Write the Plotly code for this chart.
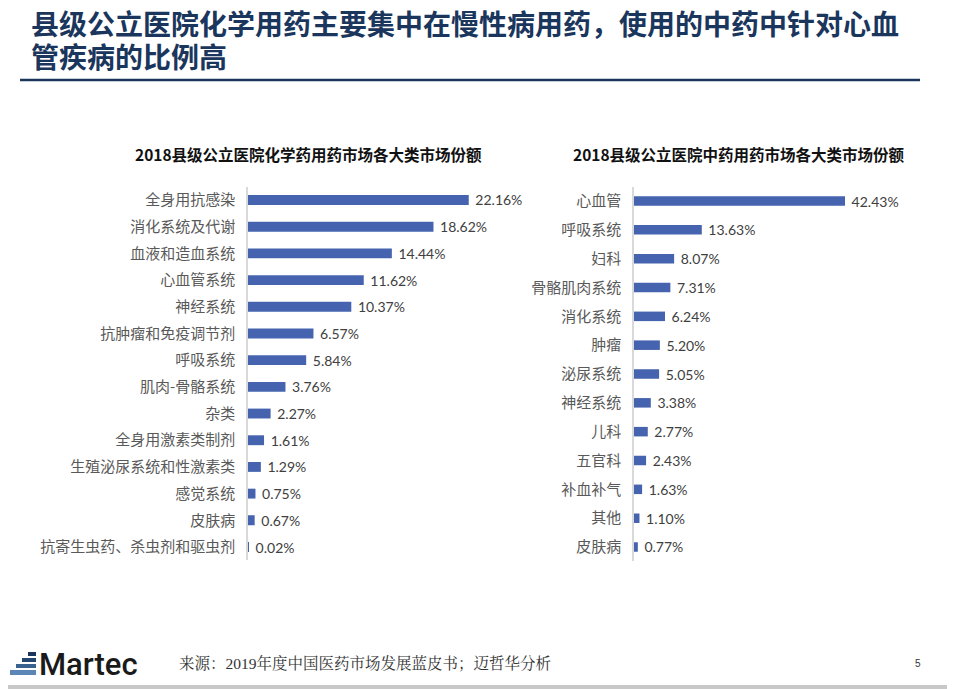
import plotly.graph_objects as go

# ---------------- data ----------------
chem_categories = ["全身用抗感染", "消化系统及代谢", "血液和造血系统", "心血管系统", "神经系统",
                   "抗肿瘤和免疫调节剂", "呼吸系统", "肌肉-骨骼系统", "杂类", "全身用激素类制剂",
                   "生殖泌尿系统和性激素类", "感觉系统", "皮肤病", "抗寄生虫药、杀虫剂和驱虫剂"]
chem_values = [22.16, 18.62, 14.44, 11.62, 10.37, 6.57, 5.84, 3.76, 2.27, 1.61, 1.29, 0.75, 0.67, 0.02]

tcm_categories = ["心血管", "呼吸系统", "妇科", "骨骼肌肉系统", "消化系统", "肿瘤", "泌尿系统",
                  "神经系统", "儿科", "五官科", "补血补气", "其他", "皮肤病"]
tcm_values = [42.43, 13.63, 8.07, 7.31, 6.24, 5.20, 5.05, 3.38, 2.77, 2.43, 1.63, 1.10, 0.77]

main_title_1 = "县级公立医院化学用药主要集中在慢性病用药，使用的中药中针对心血"
main_title_2 = "管疾病的比例高"
chem_title = "2018县级公立医院化学药用药市场各大类市场份额"
tcm_title = "2018县级公立医院中药用药市场各大类市场份额"
source_text = "来源：2019年度中国医药市场发展蓝皮书；迈哲华分析"
page_no = "5"

# page has an 8px body margin: the figure is placed at (8, 8)
OX, OY = 8, 8
W, H = 947, 681
BAR = "#4563AE"
NAVY = "#1B365D"
CJK = "Noto Sans CJK SC"

def px(x):
    return (x - OX) / W

def py(y):
    return 1 - (y - OY) / H

fig = go.Figure()

fig.add_trace(go.Bar(
    x=chem_values, y=chem_categories, orientation="h",
    marker=dict(color=BAR, line=dict(width=0)),
    width=0.37,
    text=[f"{v:.2f}%" for v in chem_values],
    texttemplate=" %{text}",
    textposition="outside", cliponaxis=False, constraintext="none",
    textfont=dict(family="Lato, Noto Sans", size=14, color="#404040"),
    xaxis="x", yaxis="y", hoverinfo="skip", showlegend=False,
))

fig.add_trace(go.Bar(
    x=tcm_values, y=tcm_categories, orientation="h",
    marker=dict(color=BAR, line=dict(width=0)),
    width=0.33,
    text=[f"{v:.2f}%" for v in tcm_values],
    texttemplate=" %{text}",
    textposition="outside", cliponaxis=False, constraintext="none",
    textfont=dict(family="Lato, Noto Sans", size=14, color="#404040"),
    xaxis="x2", yaxis="y2", hoverinfo="skip", showlegend=False,
))

ytick_font = dict(family=CJK, size=15, color="#595959")

fig.update_layout(
    width=W, height=H,
    margin=dict(l=0, r=0, t=0, b=0),
    paper_bgcolor="white", plot_bgcolor="white",
    xaxis=dict(domain=[px(248), px(507)], range=[0, 26], visible=False, fixedrange=True),
    yaxis=dict(domain=[py(560.35), py(186.65)], type="category",
               categoryorder="array", categoryarray=chem_categories,
               range=[len(chem_categories) - 0.5, -0.5],
               showline=True, linecolor="#D9D9D9", linewidth=1.5,
               ticks="", showgrid=False, zeroline=False,
               tickfont=ytick_font, ticklabelstandoff=8, anchor="x"),
    xaxis2=dict(domain=[px(634), px(932.4)], range=[0, 60], visible=False, fixedrange=True),
    yaxis2=dict(domain=[py(561.4), py(186.6)], type="category",
                categoryorder="array", categoryarray=tcm_categories,
                range=[len(tcm_categories) - 0.5, -0.5],
                showline=True, linecolor="#D9D9D9", linewidth=1.5,
                ticks="", showgrid=False, zeroline=False,
                tickfont=ytick_font, ticklabelstandoff=8, anchor="x2"),
    bargap=0.6,
)

def ann(text, x, y, font, xanchor="left"):
    return dict(text=text, x=px(x), y=py(y), xref="paper", yref="paper",
                xanchor=xanchor, yanchor="middle", font=font, showarrow=False)

annotations = [
    ann(main_title_1, 29, 23, dict(family=CJK, size=28, color=NAVY, weight="bold")),
    ann(main_title_2, 29, 56, dict(family=CJK, size=28, color=NAVY, weight="bold")),
    ann(chem_title, 308, 154, dict(family=CJK, size=15.5, color="#111111", weight="bold"), "center"),
    ann(tcm_title, 739, 154, dict(family=CJK, size=15.5, color="#111111", weight="bold"), "center"),
    ann("Martec", 37, 664, dict(family="Roboto", size=31, color="#1a1a1a", weight=500)),
    ann(source_text, 177, 663, dict(family="Liberation Serif, Noto Serif CJK SC, " + CJK,
                                    size=15.5, color="#333333")),
    ann(page_no, 918, 663, dict(family="Liberation Sans", size=10, color="#333333"), "center"),
]
fig.update_layout(annotations=annotations)

def rect(x0, x1, y0, y1, color):
    return dict(type="rect", xref="paper", yref="paper", x0=px(x0), x1=px(x1),
                y0=py(y1), y1=py(y0), fillcolor=color, line=dict(width=0), layer="above")

shapes = [
    dict(type="line", xref="paper", yref="paper", x0=px(20), x1=px(920), y0=py(80), y1=py(80),
         line=dict(color=NAVY, width=2.5)),
    # logo stripes
    rect(28, 36, 652, 656, "#1B365D"),
    rect(22, 36, 658, 662, "#24466F"),
    rect(16, 36, 664, 668, "#3A628F"),
    rect(10, 36, 670, 675, "#5C86B5"),
    # bottom grey band
    rect(0, 955, 685, 689, "#C8C8C8"),
]
fig.update_layout(shapes=shapes)

fig.write_html("out.html")
